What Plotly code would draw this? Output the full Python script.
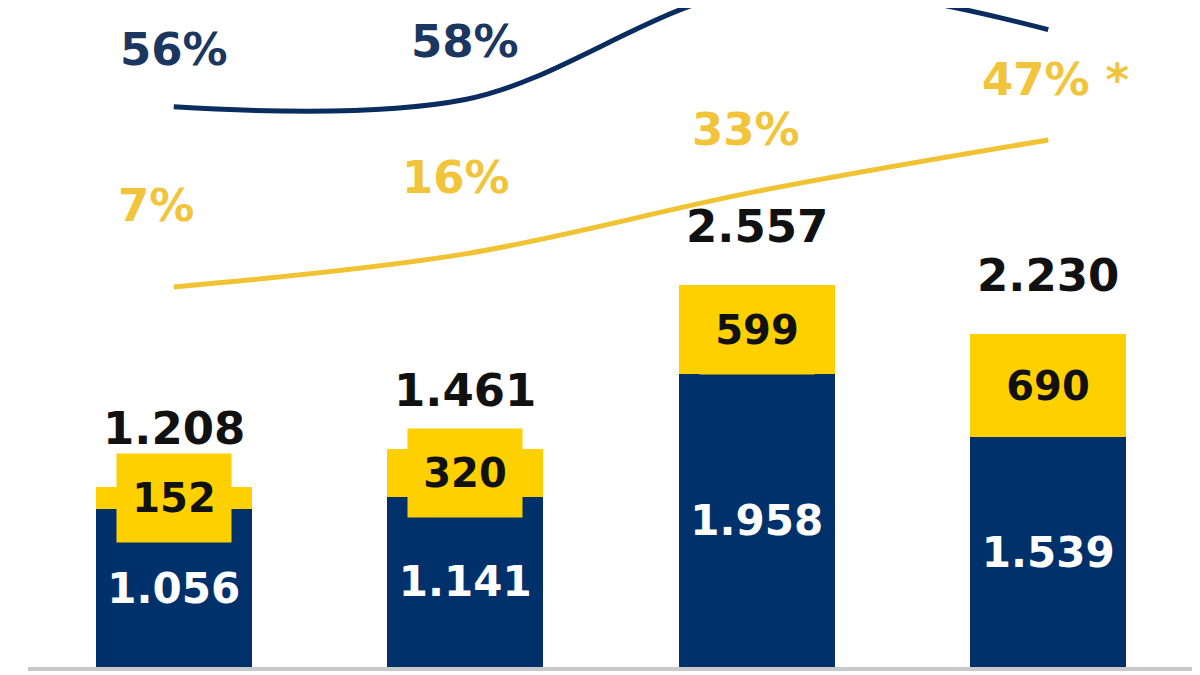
import plotly.graph_objects as go

# ---- data ----
categories = ["P1", "P2", "P3", "P4"]
navy_values = [1056, 1141, 1958, 1539]
yellow_values = [152, 320, 599, 690]
totals = [1208, 1461, 2557, 2230]
navy_pct = [56, 58, 88, 77]
yellow_pct = [7, 16, 33, 47]
navy_pct_labels = ["56%", "58%", "", ""]
yellow_pct_labels = ["7%", "16%", "33%", "47% *"]

# ---- styles ----
NAVY = "#00316A"
NAVY_LINE = "#0B2C5E"
NAVY_TEXT = "#1B365F"
YELLOW = "#FFD000"
YELLOW_LINE = "#F1C232"
YELLOW_TEXT = "#F1C43C"
FONT = "DejaVu Sans"

navy_dx = [0, 0, 0, 0]
navy_dy = [57, 58, 0, 0]
yellow_dx = [-18, -9, -11, 7]
yellow_dy = [81, 76, 62, 60]


def fmt(v):
    return f"{v:,}".replace(",", ".")


fig = go.Figure()
fig.add_trace(go.Bar(
    x=categories, y=navy_values, marker=dict(color=NAVY, line=dict(width=0)),
    text=[fmt(v) for v in navy_values], textposition="inside",
    insidetextanchor="middle", textangle=0, constraintext="none",
    textfont=dict(family=FONT, size=42, color="white", weight="bold"),
    hoverinfo="skip",
))
fig.add_trace(go.Bar(
    x=categories, y=yellow_values, marker=dict(color=YELLOW, line=dict(width=0)),
    hoverinfo="skip",
))
fig.add_trace(go.Scatter(
    x=categories, y=navy_pct, yaxis="y2", mode="lines",
    line=dict(color=NAVY_LINE, width=5, shape="spline"), hoverinfo="skip",
))
fig.add_trace(go.Scatter(
    x=categories, y=yellow_pct, yaxis="y2", mode="lines",
    line=dict(color=YELLOW_LINE, width=5, shape="spline"), hoverinfo="skip",
))

annotations = []
for i, c in enumerate(categories):
    # yellow segment labels with yellow box
    annotations.append(dict(
        x=c, y=navy_values[i] + yellow_values[i] / 2, xref="x", yref="y",
        text=fmt(yellow_values[i]), showarrow=False,
        font=dict(family=FONT, size=40, color="#111111", weight="bold"),
        bgcolor=YELLOW, borderpad=0, width=114, height=88,
        align="center", valign="middle",
    ))
    # totals
    annotations.append(dict(
        x=c, y=totals[i], xref="x", yref="y", text=fmt(totals[i]),
        showarrow=False, yanchor="middle", yshift=58,
        font=dict(family=FONT, size=45, color="#111111", weight="bold"),
    ))
    if navy_pct_labels[i]:
        annotations.append(dict(
            x=c, y=navy_pct[i], xref="x", yref="y2", text=navy_pct_labels[i],
            showarrow=False, yanchor="middle", xshift=navy_dx[i], yshift=navy_dy[i],
            font=dict(family=FONT, size=45, color=NAVY_TEXT, weight="bold"),
        ))
    annotations.append(dict(
        x=c, y=yellow_pct[i], xref="x", yref="y2", text=yellow_pct_labels[i],
        showarrow=False, yanchor="middle", xshift=yellow_dx[i], yshift=yellow_dy[i],
        font=dict(family=FONT, size=45, color=YELLOW_TEXT, weight="bold"),
    ))

fig.update_layout(
    width=1192, height=667,
    margin=dict(l=20, r=6, t=0, b=8),
    paper_bgcolor="white", plot_bgcolor="white",
    barmode="stack", bargap=0.466, showlegend=False,
    xaxis=dict(range=[-0.5, 3.5], showticklabels=False, ticks="",
               showgrid=False, zeroline=False, showline=True,
               linecolor="#C9C9C9", linewidth=4),
    yaxis=dict(range=[0, 4411], visible=False),
    yaxis2=dict(range=[-96.4, 82.9], overlaying="y", visible=False),
    annotations=annotations,
)

fig.write_html("out.html")
